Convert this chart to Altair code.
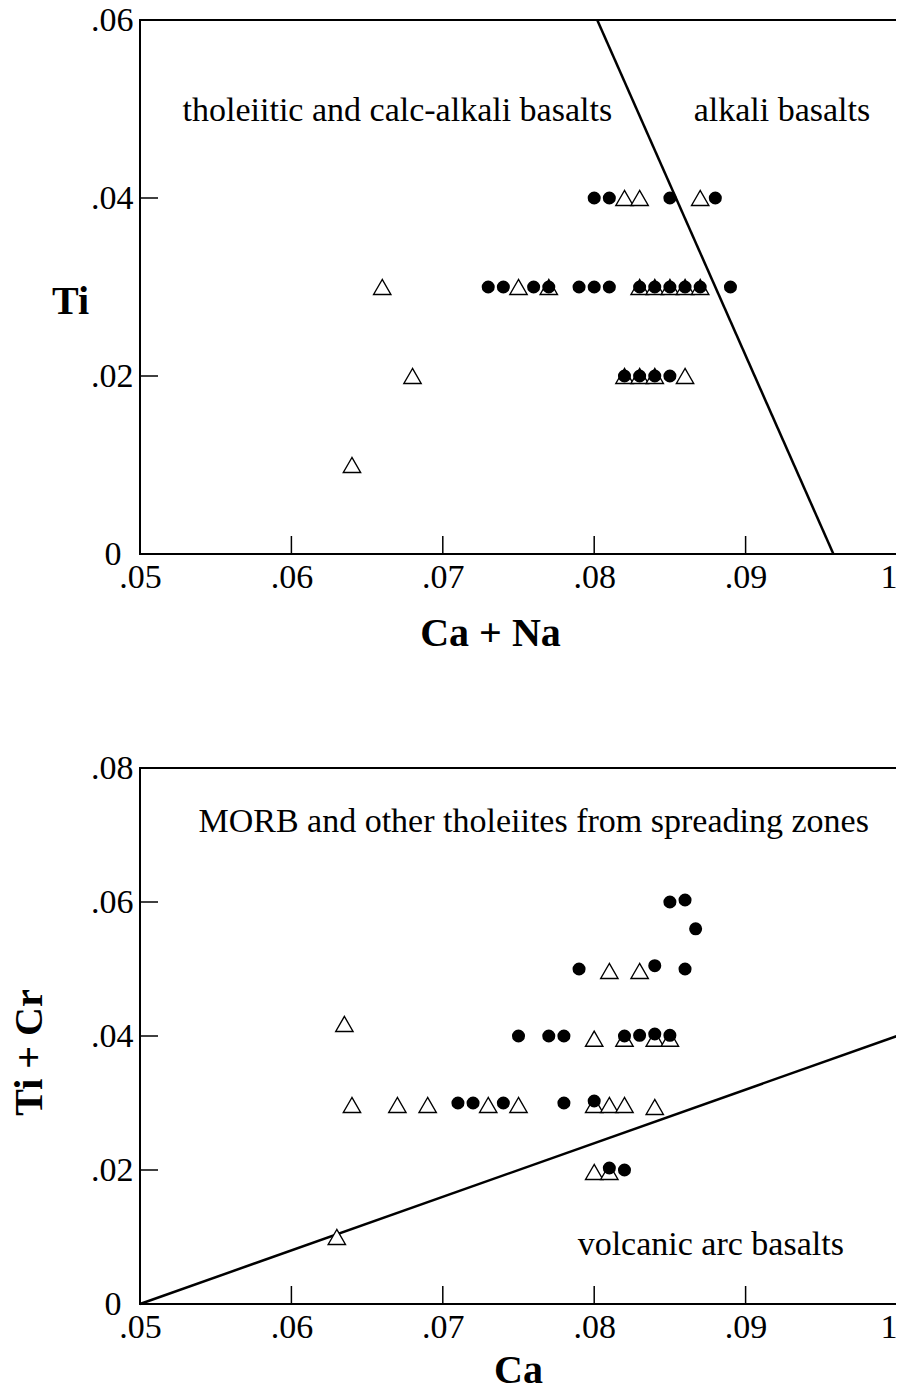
import altair as alt
import pandas as pd

FONT = "Liberation Serif"

# ---------------- top panel data (Ca + Na vs Ti) ----------------
top_circle_x = [0.080, 0.081, 0.085, 0.088,
                0.073, 0.074, 0.076, 0.077, 0.079, 0.080, 0.081, 0.083, 0.084, 0.085, 0.086, 0.087, 0.089,
                0.082, 0.083, 0.084, 0.085]
top_circle_y = [0.04, 0.04, 0.04, 0.04,
                0.03, 0.03, 0.03, 0.03, 0.03, 0.03, 0.03, 0.03, 0.03, 0.03, 0.03, 0.03, 0.03,
                0.02, 0.02, 0.02, 0.02]
top_tri_x = [0.082, 0.083, 0.087,
             0.066, 0.075, 0.077, 0.083, 0.084, 0.085, 0.086, 0.087,
             0.068, 0.082, 0.083, 0.084, 0.086,
             0.064]
top_tri_y = [0.04, 0.04, 0.04,
             0.03, 0.03, 0.03, 0.03, 0.03, 0.03, 0.03, 0.03,
             0.02, 0.02, 0.02, 0.02, 0.02,
             0.01]
top_line_x = [0.0802, 0.0958]
top_line_y = [0.06, 0.0]
top_note_text = ["tholeiitic and calc-alkali basalts", "alkali basalts"]
top_note_x = [0.0670, 0.0924]
top_note_y = [0.0498, 0.0498]

# ---------------- bottom panel data (Ca vs Ti + Cr) ----------------
bot_circle_x = [0.085, 0.086, 0.0867,
                0.079, 0.084, 0.086,
                0.075, 0.077, 0.078, 0.082, 0.083, 0.084, 0.085,
                0.071, 0.072, 0.074, 0.078, 0.080,
                0.081, 0.082]
bot_circle_y = [0.060, 0.0603, 0.056,
                0.050, 0.0505, 0.050,
                0.040, 0.040, 0.040, 0.040, 0.0401, 0.0403, 0.0401,
                0.030, 0.030, 0.030, 0.030, 0.0303,
                0.0203, 0.020]
bot_tri_x = [0.0635,
             0.081, 0.083,
             0.080, 0.082, 0.084, 0.085,
             0.064, 0.067, 0.069, 0.073, 0.075, 0.080, 0.081, 0.082, 0.084,
             0.080, 0.081,
             0.063]
bot_tri_y = [0.0418,
             0.0497, 0.0497,
             0.0396, 0.0396, 0.0396, 0.0396,
             0.0297, 0.0297, 0.0297, 0.0297, 0.0297, 0.0297, 0.0297, 0.0297, 0.0294,
             0.0197, 0.0197,
             0.0100]
bot_line_x = [0.05, 0.10]
bot_line_y = [0.0, 0.04]
bot_note_text = ["MORB and other tholeiites from spreading zones", "volcanic arc basalts"]
bot_note_x = [0.0760, 0.0877]
bot_note_y = [0.0719, 0.0088]

x_ticks = [0.05, 0.06, 0.07, 0.08, 0.09, 0.10]
x_inner_ticks = [0.06, 0.07, 0.08, 0.09]
top_y_ticks = [0.0, 0.02, 0.04, 0.06]
top_y_inner = [0.02, 0.04]
bot_y_ticks = [0.0, 0.02, 0.04, 0.06, 0.08]
bot_y_inner = [0.02, 0.04, 0.06]

W = 757
TOP_H = 534
BOT_H = 536
TICK = 18


def panel(cx, cy, tx, ty, lx, ly, nt, nx, ny, ymax, yvals, yinner, H,
          xtitle, xtitle_x, xtitle_y, ytitle, ytitle_x, ytitle_y, ytitle_angle):
    xscale = alt.Scale(domain=[0.05, 0.10], nice=False, zero=False)
    yscale = alt.Scale(domain=[0, ymax], nice=False, zero=False)
    xaxis = alt.Axis(values=x_ticks, title=xtitle, ticks=False, domain=False, grid=False,
                     labelExpr="datum.value > 0.095 ? '1' : substring(format(datum.value, '.2f'), 1)",
                     labelAlign={"condition": {"test": "datum.value > 0.095", "value": "right"}, "value": "center"},
                     labelFont=FONT, labelFontSize=34, labelColor="black", labelPadding=6,
                     titleFont=FONT, titleFontSize=40, titleFontWeight="bold", titleColor="black",
                     titleX=xtitle_x, titleY=xtitle_y, titleAlign="center", titleBaseline="middle",
                     labelFlush=False, labelOverlap=False)
    yaxis = alt.Axis(values=yvals, title=ytitle, ticks=False, domain=False, grid=False,
                     labelExpr="datum.value == 0 ? '0' : substring(format(datum.value, '.2f'), 1)",
                     labelPadding={"condition": {"test": "datum.value == 0", "value": 19}, "value": 7},
                     labelFont=FONT, labelFontSize=34, labelColor="black",
                     titleFont=FONT, titleFontSize=40, titleFontWeight="bold", titleColor="black",
                     titleX=ytitle_x, titleY=ytitle_y, titleAngle=ytitle_angle,
                     titleAlign="center", titleBaseline="middle",
                     labelFlush=False, labelOverlap=False)

    X = lambda f: alt.X(f, type="quantitative", scale=xscale, axis=xaxis)
    Y = lambda f: alt.Y(f, type="quantitative", scale=yscale, axis=yaxis)

    xt = alt.Chart(pd.DataFrame({"t": x_inner_ticks})).mark_rule(color="black", strokeWidth=1.5).encode(
        x=X("t"), y=alt.value(H), y2=alt.value(H - TICK))
    yt = alt.Chart(pd.DataFrame({"t": yinner})).mark_rule(color="black", strokeWidth=1.5).encode(
        y=Y("t"), x=alt.value(0), x2=alt.value(TICK))
    line = alt.Chart(pd.DataFrame({"x": lx, "y": ly})).mark_line(color="black", strokeWidth=2.5).encode(
        x=X("x"), y=Y("y"))
    tri = alt.Chart(pd.DataFrame({"x": tx, "y": ty})).mark_point(
        shape="triangle-up", size=300, filled=False, fill="white", fillOpacity=1,
        stroke="black", strokeWidth=1.4, opacity=1).encode(x=X("x"), y=Y("y"))
    circ = alt.Chart(pd.DataFrame({"x": cx, "y": cy})).mark_circle(
        size=170, color="black", opacity=1).encode(x=X("x"), y=Y("y"))
    notes = alt.Chart(pd.DataFrame({"x": nx, "y": ny, "t": nt})).mark_text(
        font=FONT, fontSize=34, color="black", align="center", baseline="middle").encode(
        x=X("x"), y=Y("y"), text="t:N")
    return alt.layer(xt, yt, line, tri, circ, notes).properties(width=W, height=H)


top = panel(top_circle_x, top_circle_y, top_tri_x, top_tri_y, top_line_x, top_line_y,
            top_note_text, top_note_x, top_note_y, 0.06, top_y_ticks, top_y_inner, TOP_H,
            "Ca + Na", 350, 79, "Ti", -70, 281, 0)
bottom = panel(bot_circle_x, bot_circle_y, bot_tri_x, bot_tri_y, bot_line_x, bot_line_y,
               bot_note_text, bot_note_x, bot_note_y, 0.08, bot_y_ticks, bot_y_inner, BOT_H,
               "Ca", 378, 66, "Ti + Cr", -111, 284, 270)

chart = alt.vconcat(top, bottom, spacing=96).properties(
    padding={"left": 0, "top": -6, "right": -7, "bottom": -4},
    background="white"
).configure_view(stroke="black", strokeWidth=2)

chart.save("out.html", embed_options={"renderer": "svg", "actions": False})
